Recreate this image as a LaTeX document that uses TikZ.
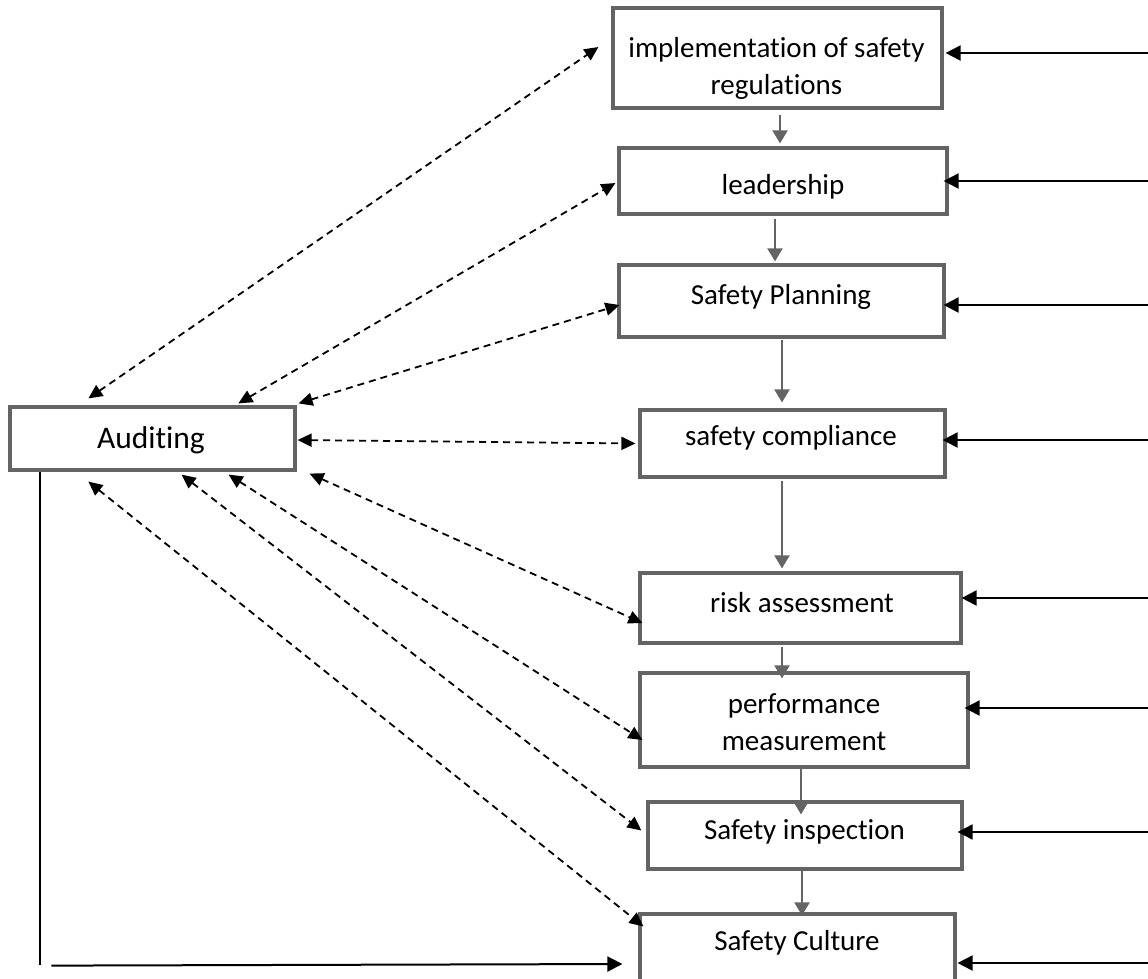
\documentclass[tikz,border=0pt]{standalone}
\usepackage{fontspec}
\setmainfont[Ligatures=NoCommon]{Carlito}
\usetikzlibrary{arrows.meta,calc}
\definecolor{boxgray}{HTML}{646464}
\tikzset{
  box/.style={draw=boxgray, line width=3.2pt, fill=white, inner sep=0pt, rectangle},
  txt/.style={inner sep=0pt, align=center, font=\fontsize{29}{37}\selectfont},
  garrow/.style={draw=boxgray, line width=2pt, -{Triangle[length=13pt,width=15pt]}},
  barrow/.style={draw=black, line width=2pt, -{Triangle[length=15pt,width=15pt]}},
  bline/.style={draw=black, line width=2pt},
  darrow/.style={draw=black, line width=1.8pt, dash pattern=on 7pt off 5pt,
    {Triangle[length=14pt,width=13pt]}-{Triangle[length=14pt,width=13pt]}},
}
\begin{document}
\begin{tikzpicture}[x=1pt,y=-1pt]
\useasboundingbox (0,0) rectangle (1148,978);
\clip (0,0) rectangle (1148,978);
% boxes
\node[box, minimum width=329pt, minimum height=100pt] (impl) at (777.5,58) {};
\node[box, minimum width=328pt, minimum height=66pt] (lead) at (783,181) {};
\node[box, minimum width=325pt, minimum height=72pt] (plan) at (781.5,301) {};
\node[box, minimum width=305pt, minimum height=67pt] (comp) at (792.5,443.5) {};
\node[box, minimum width=321pt, minimum height=70pt] (risk) at (800.5,608) {};
\node[box, minimum width=328pt, minimum height=94pt] (perf) at (804,720) {};
\node[box, minimum width=314pt, minimum height=67pt] (insp) at (805,835.5) {};
\node[box, minimum width=315pt, minimum height=81pt] (cult) at (797.5,954.5) {};
\node[box, minimum width=285pt, minimum height=63pt] (aud) at (152.5,438.5) {};
% texts
\node[txt] (implt) at (776.5,68.5) {implementation of safety\\regulations};
\node[txt] (leadt) at (783,187) {leadership};
\node[txt] (plant) at (781,297) {Safety Planning};
\node[txt] (compt) at (791,438) {safety compliance};
\node[txt] (riskt) at (802,603) {risk assessment};
\node[txt] (perft) at (804,722.5) {performance\\measurement};
\node[txt] (inspt) at (804.5,832) {Safety inspection};
\node[txt] (cultt) at (797,943) {Safety Culture};
\node[txt, font=\fontsize{31.5}{38}\selectfont] (audt) at (151,440) {Auditing};
% gray vertical arrows
\draw[garrow] ($(impl.south)+(2.5,5)$) -- ($(lead.north)+(-3,-3)$);
\draw[garrow] ($(lead.south)+(-8,3)$) -- ($(plan.north)+(-6.5,-2)$);
\draw[garrow] ($(plan.south)+(0.5,1)$) -- ($(comp.north)+(-10.5,-6)$);
\draw[garrow] ($(comp.south)+(-10.5,2)$) -- ($(risk.north)+(-18.5,-3)$);
\draw[garrow] ($(risk.south)+(-18.5,2)$) -- ($(perf.north)+(-22,7)$);
\draw[garrow] ($(perf.south)+(-3,0)$) -- ($(insp.north)+(-4,14)$);
\draw[garrow] ($(insp.south)+(-3,0)$) -- ($(cult.north)+(4.5,3)$);
% right incoming arrows
\coordinate (R) at (1148,0);
\coordinate (ti1) at ($(impl.east)+(2,-5)$);
\coordinate (ti2) at ($(lead.east)+(-5,0)$);
\coordinate (ti3) at ($(plan.east)+(-2,4)$);
\coordinate (ti4) at ($(comp.east)+(-4,-3.5)$);
\coordinate (ti5) at ($(risk.east)+(-1,-10)$);
\coordinate (ti6) at ($(perf.east)+(-5,-12)$);
\coordinate (ti7) at ($(insp.east)+(-6,-3.5)$);
\coordinate (ti8) at ($(cult.east)+(1,8.5)$);
\foreach \t in {ti1,ti2,ti3,ti4,ti5,ti6,ti7,ti8}
  \draw[barrow] (\t -| R) -- (\t);
% dashed two-way arrows
\draw[darrow] ($(aud.north west)+(80,-7)$) -- ($(impl.west)+(-13,-11)$);
\draw[darrow] ($(aud.north west)+(230,-2)$) -- ($(lead.west)+(-2,2)$);
\draw[darrow] ($(aud.north east)+(2,-2)$) -- ($(plan.west)+(2,4)$);
\draw[darrow] ($(aud.east)+(1,1.5)$) -- ($(comp.west)+(-3,0)$);
\draw[darrow] ($(aud.south east)+(13,2)$) -- ($(risk.west)+(4,15)$);
\draw[darrow] ($(aud.south east)+(-68,3)$) -- ($(perf.west)+(4,20)$);
\draw[darrow] ($(aud.south east)+(-115,3)$) -- ($(insp.west)+(-5,-5)$);
\draw[darrow] ($(aud.south west)+(80,10)$) -- ($(cult.north west)+(5,14)$);
% bottom feedback line
\draw[bline] ($(aud.south west)+(32,0)$) -- ++(0,493);
\coordinate (bl) at ($(aud.south west)+(43,494)$);
\coordinate (cl) at ($(cult.west)+(-16,9.5)$);
\draw[barrow] (bl) -- (cl);
\end{tikzpicture}
\end{document}
